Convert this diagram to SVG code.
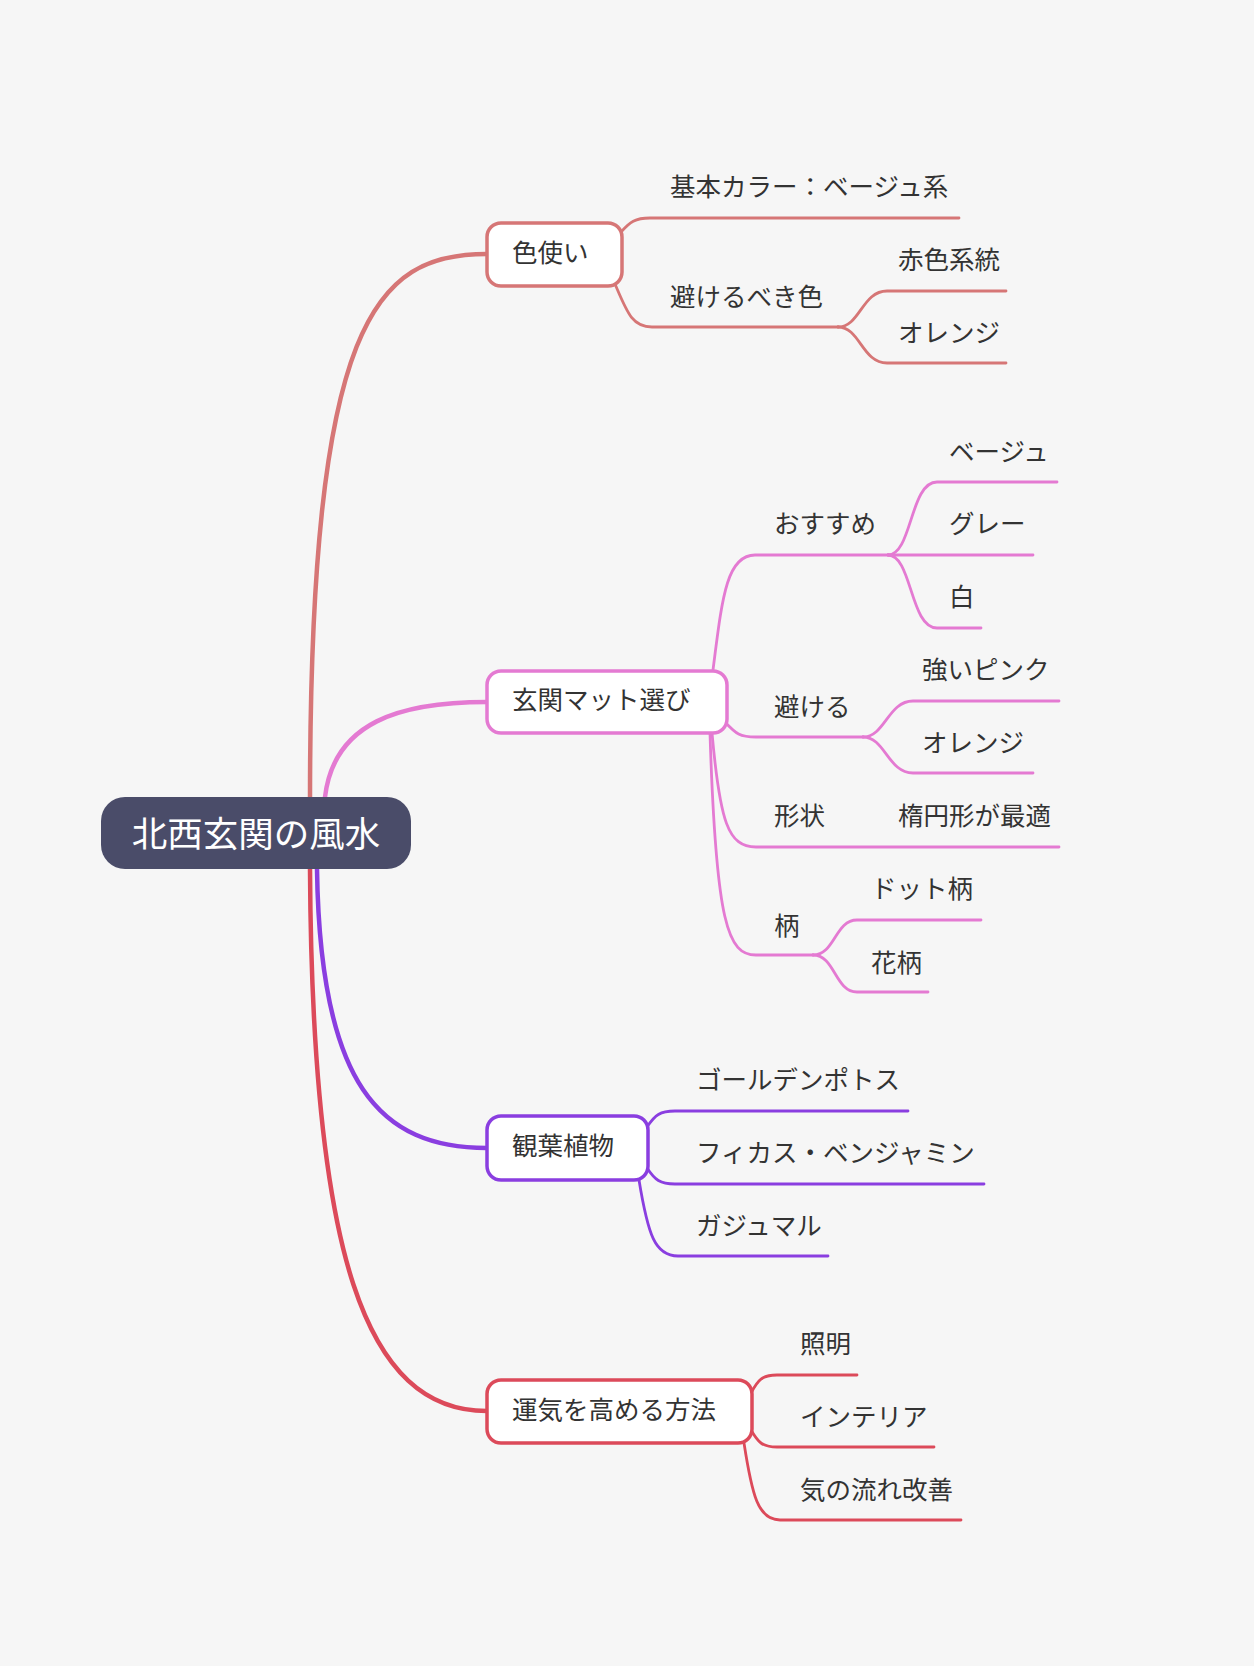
<svg xmlns="http://www.w3.org/2000/svg" width="1254" height="1666" viewBox="0 0 1254 1666">
<style>
text{font-family:"Noto Sans CJK JP","Noto Sans",sans-serif;fill:#333;dominant-baseline:central}
.lbl{font-size:25.5px}
.node{fill:#fff;stroke-width:3.5}
.c1{stroke:#d67676}
.c2{stroke:#e47ad2}
.c3{stroke:#8a3ee0}
.c4{stroke:#dc4a5a}
.main{fill:none;stroke-width:4.5;stroke-linecap:round}
.sub{fill:none;stroke-width:2.8;stroke-linecap:round}
</style>
<rect width="1254" height="1666" fill="#f6f6f6"/>
<g id="connectors">
  <path class="main c1" d="M310,800 C310,320 375,254 487,254"/>
  <path class="main c2" d="M325,797 C334,722 400,702 487,702"/>
  <path class="main c3" d="M317,869 C320,1085 380,1148 487,1148"/>
  <path class="main c4" d="M310,869 C312,1255 365,1411 487,1411"/>
  <!-- 色使い -->
  <path class="sub c1" d="M621,232 C630,222 635,218 650,218 L959,218"/>
  <path class="sub c1" d="M615,284 C627,312 632,327 652,327 L838,327"/>
  <path class="sub c1" d="M838,327 C860,327 862,291 887,291 L1006,291"/>
  <path class="sub c1" d="M838,327 C860,327 862,363 887,363 L1006,363"/>
  <!-- 玄関マット選び -->
  <path class="sub c2" d="M713,670 C722,600 726,555 755,555 L888,555"/>
  <path class="sub c2" d="M888,555 C912,555 910,482 937,482 L1057,482"/>
  <path class="sub c2" d="M888,555 L1033,555"/>
  <path class="sub c2" d="M888,555 C912,555 910,628 937,628 L981,628"/>
  <path class="sub c2" d="M725,722 C736,734 740,737 756,737 L863,737"/>
  <path class="sub c2" d="M863,737 C885,737 888,701 913,701 L1059,701"/>
  <path class="sub c2" d="M863,737 C885,737 888,773 913,773 L1033,773"/>
  <path class="sub c2" d="M712,733 C720,822 728,847 756,847 L1059,847"/>
  <path class="sub c2" d="M710,733 C716,925 728,955 756,955 L813,955"/>
  <path class="sub c2" d="M813,955 C835,955 835,920 857,920 L981,920"/>
  <path class="sub c2" d="M813,955 C835,955 835,992 857,992 L928,992"/>
  <!-- 観葉植物 -->
  <path class="sub c3" d="M647,1127 C655,1115 660,1111 675,1111 L908,1111"/>
  <path class="sub c3" d="M647,1168 C655,1180 660,1184 675,1184 L984,1184"/>
  <path class="sub c3" d="M639,1180 C648,1235 655,1256 678,1256 L828,1256"/>
  <!-- 運気を高める方法 -->
  <path class="sub c4" d="M751,1393 C758,1380 762,1375 777,1375 L857,1375"/>
  <path class="sub c4" d="M751,1430 C758,1442 762,1447 777,1447 L934,1447"/>
  <path class="sub c4" d="M744,1443 C752,1495 758,1520 780,1520 L961,1520"/>
</g>
<g id="root">
  <rect x="101" y="797" width="310" height="72" rx="24" fill="#4a4c69"/>
  <text x="256" y="831" text-anchor="middle" style="font-size:35.5px;fill:#fff">北西玄関の風水</text>
</g>
<g id="n-iro">
  <rect class="node c1" x="487" y="223" width="135" height="63" rx="14"/>
  <text class="lbl" x="512" y="250">色使い</text>
</g>
<g id="n-kihon"><text class="lbl" x="670" y="184">基本カラー：ベージュ系</text></g>
<g id="n-sakeru-iro"><text class="lbl" x="670" y="294">避けるべき色</text></g>
<g id="n-aka"><text class="lbl" x="898" y="257">赤色系統</text></g>
<g id="n-orange1"><text class="lbl" x="898" y="330">オレンジ</text></g>
<g id="n-mat">
  <rect class="node c2" x="487" y="671" width="240" height="62" rx="14"/>
  <text class="lbl" x="512" y="697">玄関マット選び</text>
</g>
<g id="n-osusume"><text class="lbl" x="774" y="521">おすすめ</text></g>
<g id="n-beige"><text class="lbl" x="949" y="449">ベージュ</text></g>
<g id="n-gray"><text class="lbl" x="949" y="521">グレー</text></g>
<g id="n-white"><text class="lbl" x="949" y="594">白</text></g>
<g id="n-sakeru"><text class="lbl" x="774" y="704">避ける</text></g>
<g id="n-pink"><text class="lbl" x="922" y="667">強いピンク</text></g>
<g id="n-orange2"><text class="lbl" x="922" y="740">オレンジ</text></g>
<g id="n-keijo"><text class="lbl" x="774" y="813">形状</text></g>
<g id="n-daen"><text class="lbl" x="898" y="813">楕円形が最適</text></g>
<g id="n-gara"><text class="lbl" x="774" y="923">柄</text></g>
<g id="n-dot"><text class="lbl" x="871" y="886">ドット柄</text></g>
<g id="n-hana"><text class="lbl" x="871" y="960">花柄</text></g>
<g id="n-plant">
  <rect class="node c3" x="487" y="1116" width="161" height="64" rx="14"/>
  <text class="lbl" x="512" y="1143">観葉植物</text>
</g>
<g id="n-pothos"><text class="lbl" x="696" y="1077">ゴールデンポトス</text></g>
<g id="n-ficus"><text class="lbl" x="696" y="1150">フィカス・ベンジャミン</text></g>
<g id="n-gajumaru"><text class="lbl" x="696" y="1223">ガジュマル</text></g>
<g id="n-luck">
  <rect class="node c4" x="487" y="1380" width="265" height="63" rx="14"/>
  <text class="lbl" x="512" y="1407">運気を高める方法</text>
</g>
<g id="n-light"><text class="lbl" x="800" y="1341">照明</text></g>
<g id="n-interior"><text class="lbl" x="800" y="1414">インテリア</text></g>
<g id="n-flow"><text class="lbl" x="800" y="1487">気の流れ改善</text></g>
</svg>
